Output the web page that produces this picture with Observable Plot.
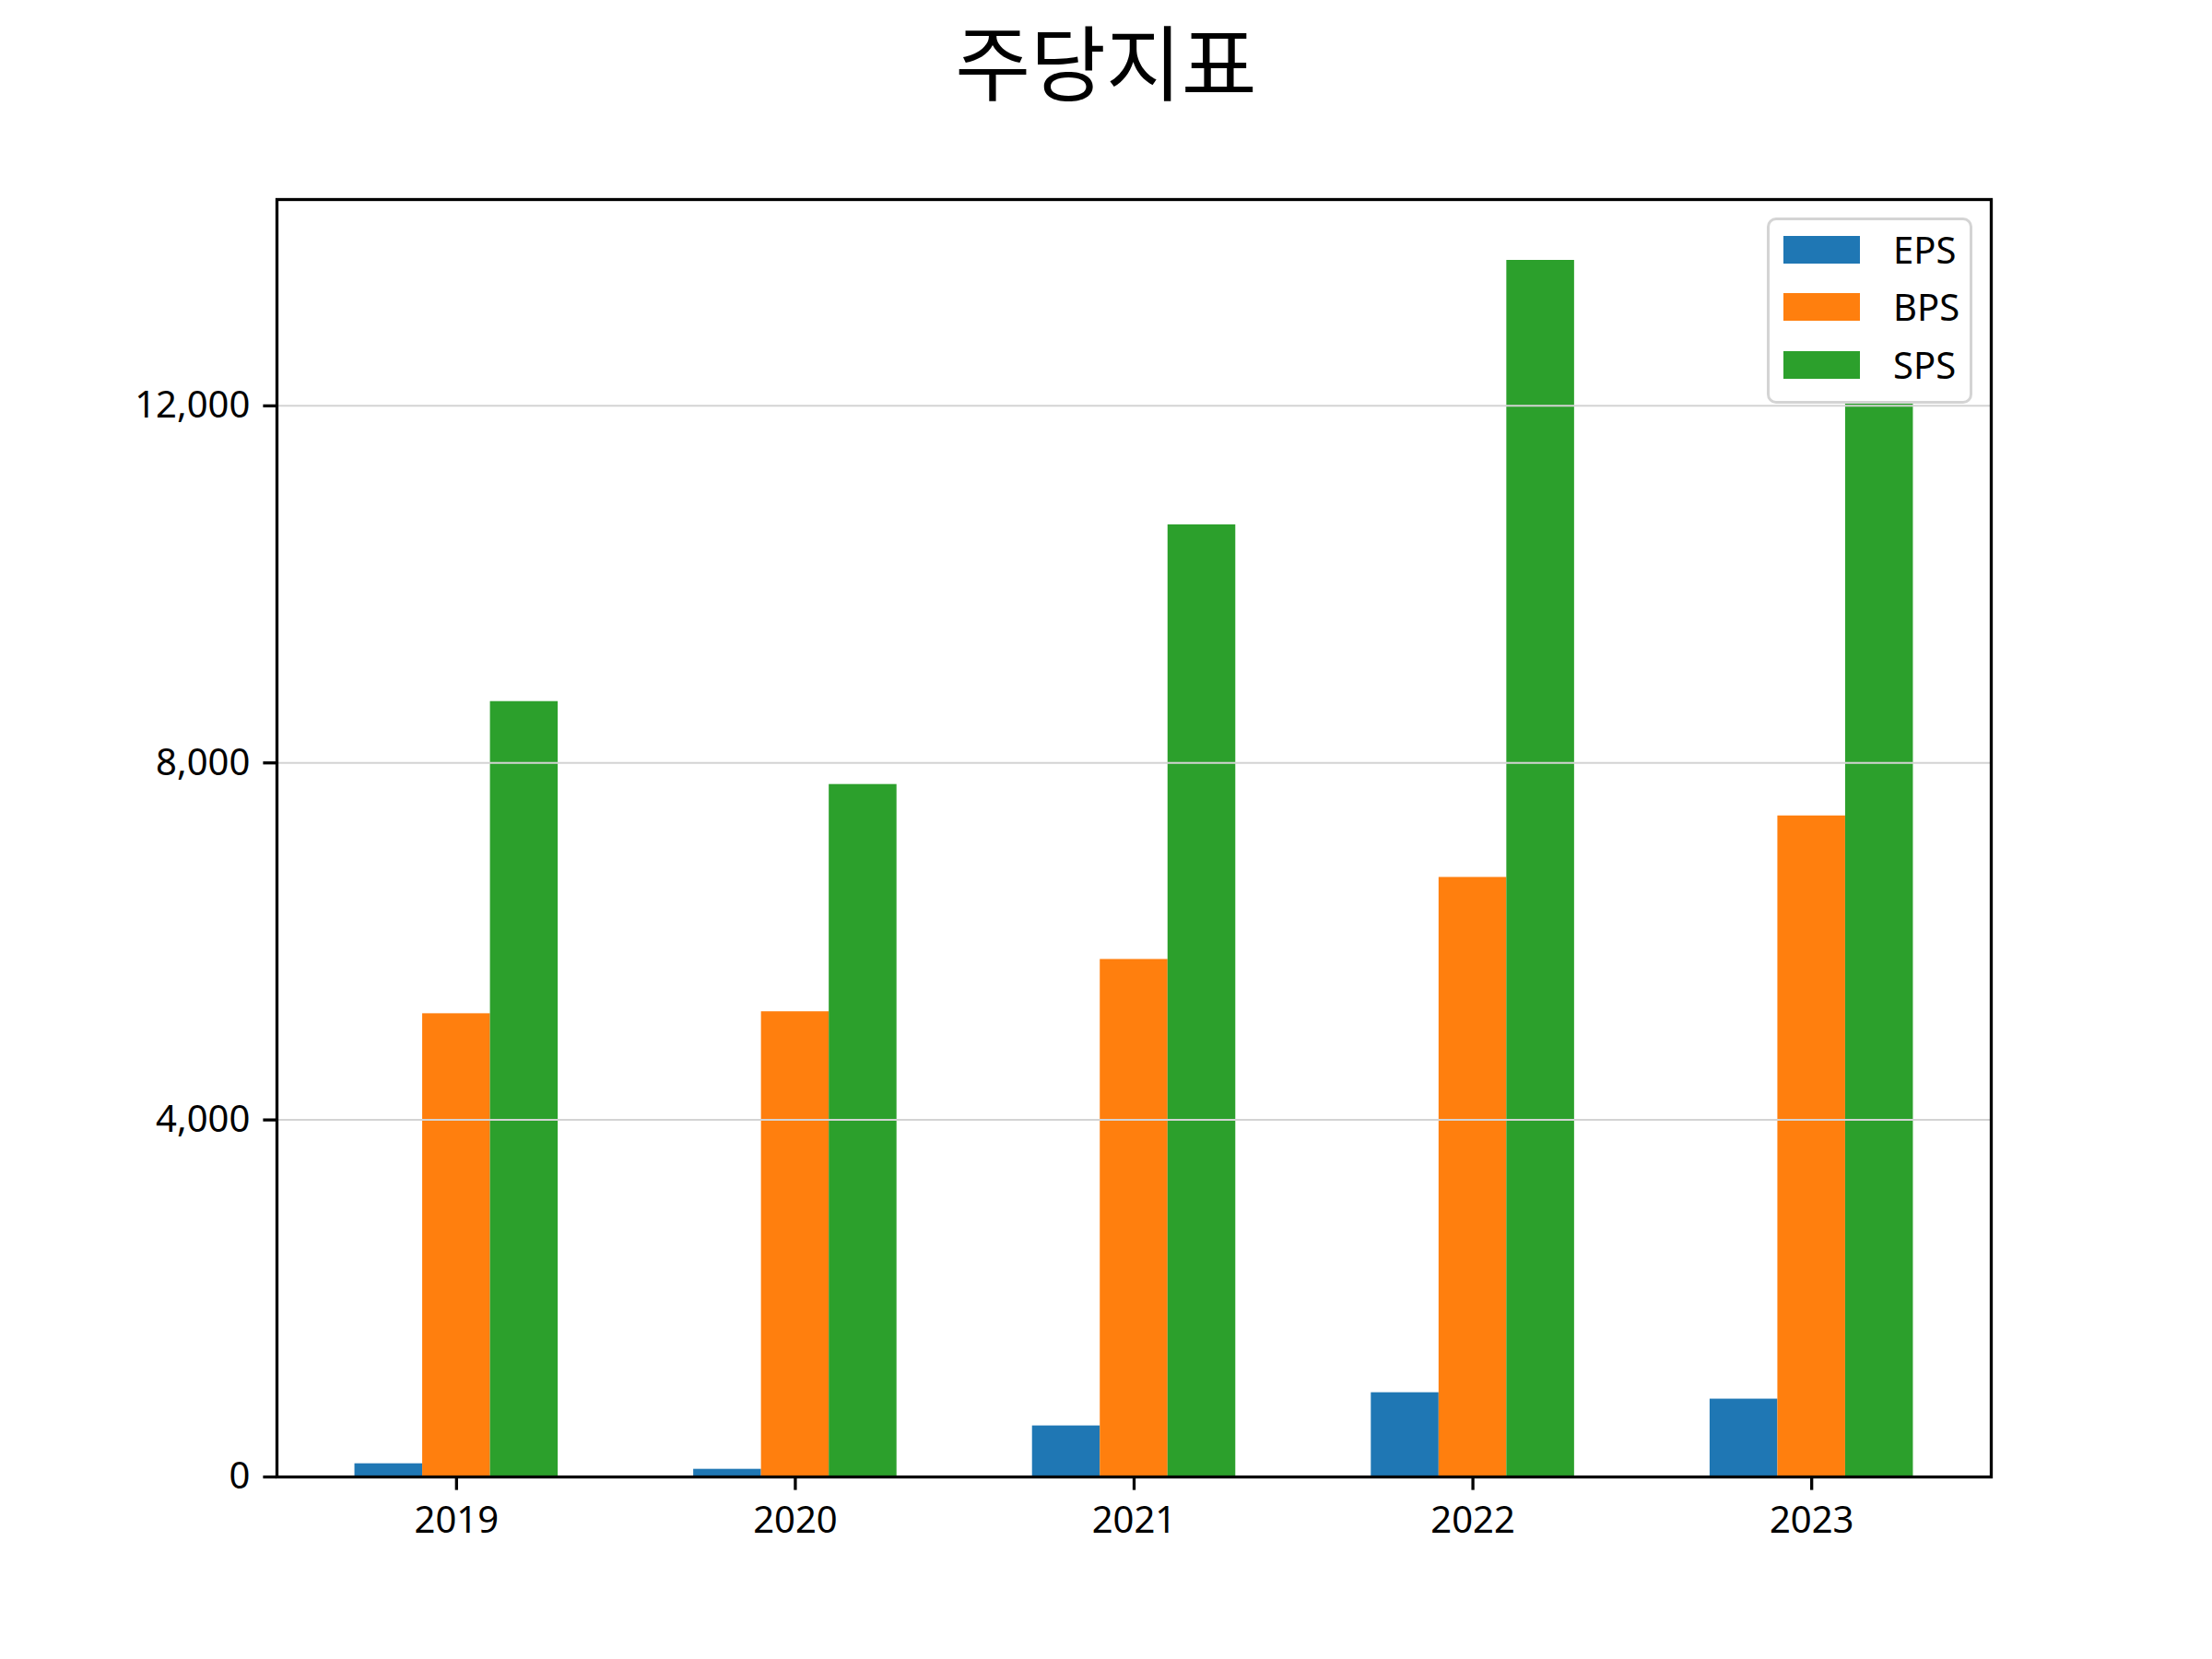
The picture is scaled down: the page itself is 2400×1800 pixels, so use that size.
<!DOCTYPE html>
<html>
<head>
<meta charset="utf-8">
<script src="https://cdn.jsdelivr.net/npm/d3@7"></script>
<script src="https://cdn.jsdelivr.net/npm/@observablehq/plot@0.6"></script>
<style>
  html, body { margin: 0; padding: 0; background: #ffffff; }
  #wrap { position: relative; width: 2400px; height: 1800px; overflow: hidden; background: #ffffff; }
  #chart { position: absolute; left: 0; top: 0; }
  #title { position: absolute; left: 0; top: 16px; width: 2400px; text-align: center;
           font-family: "Noto Sans CJK KR", "Noto Sans", sans-serif; font-size: 89px; line-height: 96px; color: #000; }
  #legend { position: absolute; left: 1917px; top: 236px; width: 223px; height: 202px; box-sizing: border-box;
            border: 3.3px solid #d4d4d4; border-radius: 10px; background: #ffffff;
            font-family: "Noto Sans", sans-serif; font-size: 40px; color: #000; }
  .sw { position: absolute; left: 15px; width: 83px; height: 30px; }
  .lab { position: absolute; left: 134px; height: 30px; line-height: 30px; white-space: nowrap; }
</style>
</head>
<body>
<div id="wrap">
  <div id="chart"></div>
  <div id="title"></div>
  <div id="legend"></div>
</div>
<script>
// ---- data ----
const chartTitle = "주당지표";
const years = ["2019", "2020", "2021", "2022", "2023"];
const eps = [148, 86, 572, 944, 872];
const bps = [5190, 5212, 5798, 6717, 7406];
const sps = [8687, 7758, 10667, 13630, 12030];
const seriesNames = ["EPS", "BPS", "SPS"];
const seriesColors = ["#1f77b4", "#ff7f0e", "#2ca02c"];
const yTicks = [0, 4000, 8000, 12000];

// ---- table ----
const seriesValues = [eps, bps, sps];
const barWidth = 0.2;
const rows = [];
seriesNames.forEach((s, k) => {
  years.forEach((yr, i) => {
    const c = i + (k - 1) * barWidth;
    rows.push({ series: s, year: yr, i, value: seriesValues[k][i], x1: c - barWidth / 2, x2: c + barWidth / 2 });
  });
});
const xLo = -1.5 * barWidth, xHi = (years.length - 1) + 1.5 * barWidth;
const xPad = 0.05 * (xHi - xLo);
const yMax = d3.max(rows, d => d.value) * 1.05;

const plot = Plot.plot({
  width: 2400,
  height: 1800,
  marginLeft: 300,
  marginRight: 240,
  marginTop: 216,
  marginBottom: 198,
  style: { fontFamily: "Noto Sans", fontSize: "40px", background: "white", color: "black", overflow: "visible" },
  x: { domain: [xLo - xPad, xHi + xPad] },
  y: { domain: [0, yMax] },
  color: { domain: seriesNames, range: seriesColors },
  marks: [
    Plot.rectY(rows, { x1: "x1", x2: "x2", y1: 0, y2: "value", fill: "series" }),
    Plot.gridY(yTicks, { stroke: "#d3d3d3", strokeOpacity: 1, strokeWidth: 2 }),
    Plot.frame({ stroke: "black", strokeWidth: 3.3 }),
    Plot.axisX(d3.range(years.length), { tickFormat: i => years[i], tickSize: 14.6, tickPadding: 17.5, strokeWidth: 3.3, label: null, fontSize: 40 }),
    Plot.axisY(yTicks, { tickFormat: d3.format(","), tickSize: 14.6, tickPadding: 14.6, strokeWidth: 3.3, label: null, fontSize: 40 })
  ]
});
document.getElementById("chart").appendChild(plot);

document.getElementById("title").textContent = chartTitle;

const legend = document.getElementById("legend");
seriesNames.forEach((s, k) => {
  const top = 35 + k * 62.6 - 15 - 3.3;
  const sw = document.createElement("div");
  sw.className = "sw";
  sw.style.top = top + "px";
  sw.style.background = seriesColors[k];
  legend.appendChild(sw);
  const lab = document.createElement("div");
  lab.className = "lab";
  lab.style.top = top + "px";
  lab.textContent = s;
  legend.appendChild(lab);
});
</script>
</body>
</html>
